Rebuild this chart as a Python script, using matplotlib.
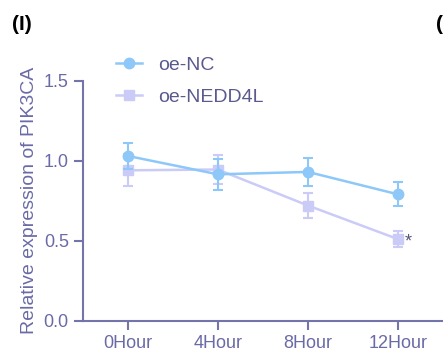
import matplotlib.pyplot as plt
from matplotlib.lines import Line2D
import numpy as np

plt.rcParams['font.family'] = ['Liberation Sans', 'DejaVu Sans']

timepoints = ["0Hour", "4Hour", "8Hour", "12Hour"]
nc_mean = [1.03, 0.915, 0.93, 0.79]
nc_err = [0.08, 0.095, 0.09, 0.075]
nedd_mean = [0.94, 0.945, 0.72, 0.51]
nedd_err = [0.10, 0.09, 0.08, 0.05]

c_nc = "#8dc8f8"
c_nedd = "#cbcbf8"
c_axis = "#7474ac"
c_text = "#6a6aa6"

fig = plt.figure(figsize=(4.43, 3.54), dpi=100)
ax = fig.add_axes([0.1867, 0.094, 0.8133, 0.678])

x = np.arange(len(timepoints))
ax.errorbar(x, nc_mean, yerr=nc_err, color=c_nc, marker='o', ms=7.5, lw=1.8,
            capsize=3.8, capthick=1.5, elinewidth=1.5, zorder=3)
ax.errorbar(x, nedd_mean, yerr=nedd_err, color=c_nedd, marker='s', ms=7, lw=1.8,
            capsize=3.8, capthick=1.5, elinewidth=1.5, zorder=2)

# significance mark
ax.annotate("*", (x[3], nedd_mean[3]), xytext=(4.5, -2), textcoords='offset points',
            color="#555577", fontsize=13, va='center', ha='left')

ax.set_xlim(-0.5, 3.5)
ax.set_ylim(0, 1.5)
ax.set_yticks([0.0, 0.5, 1.0, 1.5])
ax.set_yticklabels(["0.0", "0.5", "1.0", "1.5"])
ax.set_xticks(x)
ax.set_xticklabels(timepoints)
ax.set_ylabel("Relative expression of PIK3CA", color=c_text, fontsize=14, labelpad=4)

for s in ['top', 'right']:
    ax.spines[s].set_visible(False)
for s in ['left', 'bottom']:
    ax.spines[s].set_color(c_axis)
    ax.spines[s].set_linewidth(1.5)
ax.tick_params(colors=c_axis, labelcolor=c_text, labelsize=13, length=6.5, width=1.5)

handles = [Line2D([], [], color=c_nc, marker='o', ms=7.5, lw=1.8),
           Line2D([], [], color=c_nedd, marker='s', ms=7, lw=1.8)]
leg = ax.legend(handles, ["oe-NC", "oe-NEDD4L"], loc='upper left',
                bbox_to_anchor=(0.045, 1.175), frameon=False,
                fontsize=14, handlelength=1.3, handletextpad=0.85, labelspacing=0.75)
for t in leg.get_texts():
    t.set_color("#5a5a8e")

fig.text(0.027, 0.915, "(I)", fontsize=15, fontweight='bold', color='black')
fig.text(0.985, 0.915, "(", fontsize=15, fontweight='bold', color='black')

fig.savefig("out.png", dpi=100)
